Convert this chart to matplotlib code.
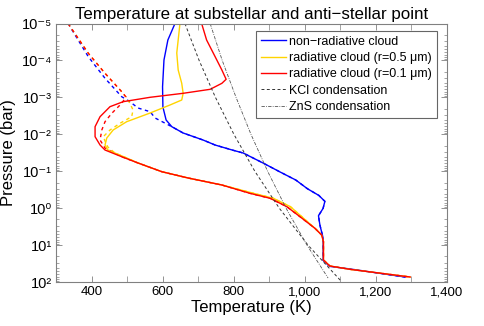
import math
import matplotlib
matplotlib.use('Agg')
import matplotlib.pyplot as plt
from matplotlib.ticker import FuncFormatter, FixedLocator, NullFormatter

plt.rcParams['font.family'] = ['Liberation Sans', 'DejaVu Sans']

# substellar profiles (solid), log10 pressure in bar
blue_logp = [-5, -4.554, -4.013, -3.290, -2.741, -2.390, -2.209, -2.038, -1.849, -1.713,
             -1.578, -1.497, -1.226, -0.983, -0.767, -0.53, -0.35, -0.19, 0.0, 0.20,
             0.45, 0.80, 1.40, 1.48, 1.57, 1.64, 1.857]
blue_t = [635, 615, 604, 600, 601, 610, 626, 658, 714, 748,
          796, 827, 883, 931, 975, 1008, 1040, 1057, 1052, 1039,
          1043, 1052, 1052, 1060, 1071, 1128, 1283]

yellow_logp = [-5, -4.554, -4.202, -3.742, -3.382, -3.112, -2.931, -2.796, -2.579, -2.344,
               -2.120, -1.903, -1.714, -1.578, -1.497, -1.362, -1.227, -0.991, -0.821, -0.632,
               -0.407, -0.272, -0.045, 0.226, 0.540, 0.721, 0.902, 1.397, 1.559, 1.649, 1.857]
yellow_t = [649, 644, 640, 644, 654, 658, 654, 621, 565, 499,
            461, 443, 438, 446, 466, 499, 531, 598, 672, 767,
            856, 912, 960, 992, 1029, 1048, 1053, 1053, 1071, 1128, 1297]

red_logp = [-5, -4.554, -4.102, -3.742, -3.491, -3.382, -3.220, -3.112, -3.004, -2.885,
            -2.750, -2.479, -2.209, -1.938, -1.714, -1.578, -1.397, -1.227, -0.991, -0.821,
            -0.632, -0.407, -0.272, -0.045, 0.226, 0.540, 0.721, 0.902, 1.397, 1.559, 1.649, 1.857]
red_t = [710, 724, 748, 767, 779, 767, 734, 658, 565, 489,
         452, 424, 410, 410, 424, 438, 485, 531, 598, 672,
         767, 846, 903, 950, 987, 1029, 1048, 1053, 1053, 1071, 1128, 1297]

# anti-stellar profiles (dashed)
blue_d_logp = [-5, -4.102, -3.518, -3.020, -2.885, -2.714, -2.614, -2.444, -2.209, -2.038,
               -1.849, -1.713, -1.578, -1.497, -1.226, -0.983, -0.767, -0.53, -0.35, -0.19,
               0.0, 0.20, 0.45, 0.80, 1.40, 1.48, 1.57, 1.64, 1.857]
blue_d_t = [334, 391, 438, 485, 508, 531, 565, 579, 626, 658,
            714, 748, 796, 827, 883, 931, 975, 1008, 1040, 1057,
            1052, 1039, 1043, 1052, 1052, 1060, 1071, 1128, 1283]

yellow_d_logp = [-5, -4.194, -3.653, -3.155, -3.012, -2.841, -2.660, -2.479, -2.300, -2.119,
                 -1.938, -1.822, -1.659, -1.497, -1.362, -1.227, -0.991, -0.821, -0.632, -0.407,
                 -0.272, -0.045, 0.226, 0.540, 0.721, 0.902, 1.397, 1.559, 1.649, 1.857]
yellow_d_t = [334, 391, 438, 485, 497, 508, 517, 513, 480, 452,
              433, 438, 446, 466, 499, 531, 598, 672, 767, 856,
              912, 960, 992, 1029, 1048, 1053, 1053, 1071, 1128, 1297]

red_d_logp = [-5, -4.194, -3.653, -3.155, -3.012, -2.841, -2.571, -2.344, -2.119, -1.849,
              -1.632, -1.397, -1.227, -0.991, -0.821, -0.632, -0.407, -0.272, -0.045, 0.226,
              0.540, 0.721, 0.902, 1.397, 1.559, 1.649, 1.857]
red_d_t = [334, 391, 438, 485, 497, 485, 457, 438, 429, 424,
           438, 485, 531, 598, 672, 767, 846, 903, 950, 987,
           1029, 1048, 1053, 1053, 1071, 1128, 1297]

# condensation curves
kcl_logp = [-5, -4, -3, -2, -1, 0, 1, 1.94]
kcl_t = [663, 703, 749, 801, 860, 929, 1010, 1100]
zns_logp = [-5, -4, -3, -2, -1, 0, 1, 1.884]
zns_t = [734, 768, 807, 849, 896, 948, 1007, 1066]

labels = ['non\u2212radiative cloud', 'radiative cloud (r=0.5 \u03bcm)',
          'radiative cloud (r=0.1 \u03bcm)', 'KCl condensation', 'ZnS condensation']

x_major = [400, 600, 800, 1000, 1200, 1400]
x_minor = [300, 500, 700, 900, 1100, 1300]
y_decades = [-5, -4, -3, -2, -1, 0, 1, 2]

BLUE = '#0000ff'
YELLOW = '#ffd400'
RED = '#ff0000'

SUP = str.maketrans('-0123456789', '\u207b\u2070\u00b9\u00b2\u00b3\u2074\u2075\u2076\u2077\u2078\u2079')


def bar(logp):
    return [10 ** v for v in logp]


def pow10(v, pos):
    e = int(round(math.log10(v)))
    return '10' + str(e).translate(SUP)


fig = plt.figure(figsize=(4.85, 3.26), dpi=100)
ax = fig.add_axes([56 / 485, 1 - 282.3 / 326, 390.7 / 485, 258.8 / 326])

lw = 1.0
dash = (0, (2.5, 2.5))
ax.plot(blue_d_t, bar(blue_d_logp), color=BLUE, lw=lw, ls=dash)
ax.plot(yellow_d_t, bar(yellow_d_logp), color=YELLOW, lw=lw, ls=dash)
ax.plot(red_d_t, bar(red_d_logp), color=RED, lw=lw, ls=dash)

h1, = ax.plot(blue_t, bar(blue_logp), color=BLUE, lw=lw)
h2, = ax.plot(yellow_t, bar(yellow_logp), color=YELLOW, lw=lw)
h3, = ax.plot(red_t, bar(red_logp), color=RED, lw=lw)
h4, = ax.plot(kcl_t, bar(kcl_logp), color='#333333', lw=0.7, ls=(0, (3, 2.5)))
h5, = ax.plot(zns_t, bar(zns_logp), color='#555555', lw=0.6, ls=(0, (4, 1.5, 1, 1.5)))

ax.set_yscale('log')
ax.set_xlim(300, 1400)
ax.set_ylim(1e2, 1e-5)

ax.xaxis.set_major_locator(FixedLocator(x_major))
ax.xaxis.set_minor_locator(FixedLocator(x_minor))
ax.xaxis.set_major_formatter(FuncFormatter(lambda v, p: f'{v:,.0f}'))
ax.yaxis.set_major_locator(FixedLocator(bar(y_decades)))
y_minor = [k * 10 ** d for d in y_decades[:-1] for k in range(2, 10)]
ax.yaxis.set_minor_locator(FixedLocator(y_minor))
ax.yaxis.set_major_formatter(FuncFormatter(pow10))
ax.yaxis.set_minor_formatter(NullFormatter())

ax.tick_params(which='both', direction='in', top=True, right=True, color='#808080',
               labelsize=9.5, pad=3)
ax.tick_params(axis='y', labelsize=10.5)
ax.tick_params(which='major', length=4, width=0.6)
ax.tick_params(which='minor', length=2, width=0.5)
ax.tick_params(axis='x', which='minor', length=4)
for s in ax.spines.values():
    s.set_color('#808080')
    s.set_linewidth(0.8)

ax.set_xlabel('Temperature (K)', fontsize=12, labelpad=1)
ax.set_ylabel('Pressure (bar)', fontsize=12, labelpad=4)
ax.set_title('Temperature at substellar and anti\u2212stellar point', fontsize=12.2, pad=3)

leg = ax.legend([h1, h2, h3, h4, h5], labels, loc='upper right',
                bbox_to_anchor=(0.9744, 0.972), borderaxespad=0, fontsize=9,
                fancybox=False, framealpha=1, edgecolor='#666666',
                handlelength=2.0, handletextpad=0.2, labelspacing=0.35,
                borderpad=0.4)
leg.get_frame().set_linewidth(0.8)

fig.savefig('out.png', dpi=100)
